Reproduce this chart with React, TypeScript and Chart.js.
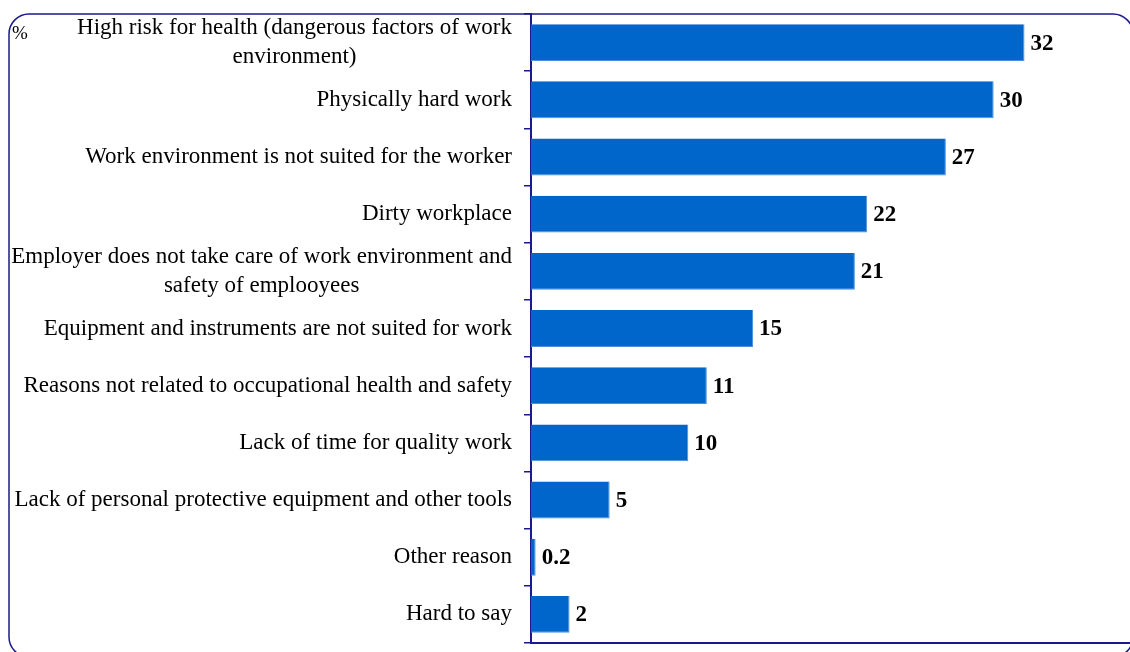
import React, { useEffect, useRef } from "react";
import { Chart, registerables } from "chart.js";

Chart.register(...registerables);

const categories: string[][] = [
  ["High risk for health (dangerous factors of work", "environment)"],
  ["Physically hard work"],
  ["Work environment is not suited for the worker"],
  ["Dirty workplace"],
  ["Employer does not take care of work environment and", "safety of emplooyees"],
  ["Equipment and instruments are not suited for work"],
  ["Reasons not related to occupational health and safety"],
  ["Lack of time for quality work"],
  ["Lack of personal protective equipment and other tools"],
  ["Other reason"],
  ["Hard to say"],
];

const values: number[] = [32, 30, 26.9, 21.8, 21.0, 14.4, 11.4, 10.2, 5.1, 0.3, 2.5];
const valueLabels: string[] = ["32", "30", "27", "22", "21", "15", "11", "10", "5", "0.2", "2"];
const unitLabel = "%";

const NAVY = "#1a1a8c";
const SERIF = "'Liberation Serif', 'Times New Roman', serif";

const decorPlugin = {
  id: "decor",
  beforeDraw(chart: any) {
    const ctx = chart.ctx;
    ctx.save();
    ctx.strokeStyle = NAVY;
    ctx.lineWidth = 1.5;
    ctx.beginPath();
    (ctx as any).roundRect(9, 14, 1124, 643, 20);
    ctx.stroke();
    ctx.restore();
  },
  afterDraw(chart: any) {
    const ctx = chart.ctx;
    const yScale = chart.scales.y;
    const meta = chart.getDatasetMeta(0);
    ctx.save();
    ctx.fillStyle = "#000";
    ctx.font = `23px ${SERIF}`;
    ctx.textBaseline = "middle";
    const rightEdge = chart.chartArea.left - 19;
    const lineH = 29;
    categories.forEach((lines, i) => {
      const cy = yScale.getPixelForValue(i);
      const widths = lines.map((l) => ctx.measureText(l).width);
      const maxW = Math.max(...widths);
      const cx = rightEdge - maxW / 2;
      lines.forEach((l, j) => {
        const y = cy + (j - (lines.length - 1) / 2) * lineH;
        ctx.textAlign = "center";
        ctx.fillText(l, cx, y);
      });
    });
    ctx.font = `bold 23px ${SERIF}`;
    ctx.textAlign = "left";
    meta.data.forEach((bar: any, i: number) => {
      ctx.fillText(valueLabels[i], bar.x + 6, bar.y + 1);
    });
    ctx.font = `19px ${SERIF}`;
    ctx.textBaseline = "alphabetic";
    ctx.fillText(unitLabel, 12, 39);
    ctx.restore();
  },
};

export default function App() {
  const ref = useRef<HTMLCanvasElement | null>(null);
  useEffect(() => {
    document.body.style.margin = "0";
    const canvas = ref.current!;
    const chart = new Chart(canvas, {
      type: "bar",
      data: {
        labels: categories.map((c) => c.join(" ")),
        datasets: [
          {
            data: values,
            backgroundColor: "#0066CC",
            borderColor: "#4a90dd",
            borderWidth: { top: 0, left: 0, right: 1, bottom: 1 } as any,
            borderSkipped: false,
            categoryPercentage: 1,
            barPercentage: 0.645,
          },
        ],
      },
      options: {
        indexAxis: "y",
        animation: false,
        responsive: false,
        layout: { padding: { top: 14, right: 0, bottom: 9, left: 0 } },
        plugins: { legend: { display: false }, tooltip: { enabled: false } },
        scales: {
          x: {
            min: 0,
            max: 38.84,
            ticks: { display: false },
            grid: { display: false },
            border: { display: true, color: NAVY, width: 2 },
            afterFit(scale: any) {
              scale.height = 0;
            },
          },
          y: {
            ticks: { display: false },
            grid: {
              display: true,
              drawOnChartArea: false,
              drawTicks: true,
              tickLength: 7,
              color: NAVY,
              lineWidth: 1.5,
              offset: true,
            },
            border: { display: true, color: NAVY, width: 2 },
            afterFit(scale: any) {
              scale.width = 531;
            },
          },
        },
      },
      plugins: [decorPlugin],
    });
    return () => chart.destroy();
  }, []);
  return (
    <div style={{ position: "fixed", left: 0, top: 0, width: 1130, height: 652, background: "#fff" }}>
      <canvas ref={ref} width={1130} height={652} style={{ display: "block" }} />
    </div>
  );
}
